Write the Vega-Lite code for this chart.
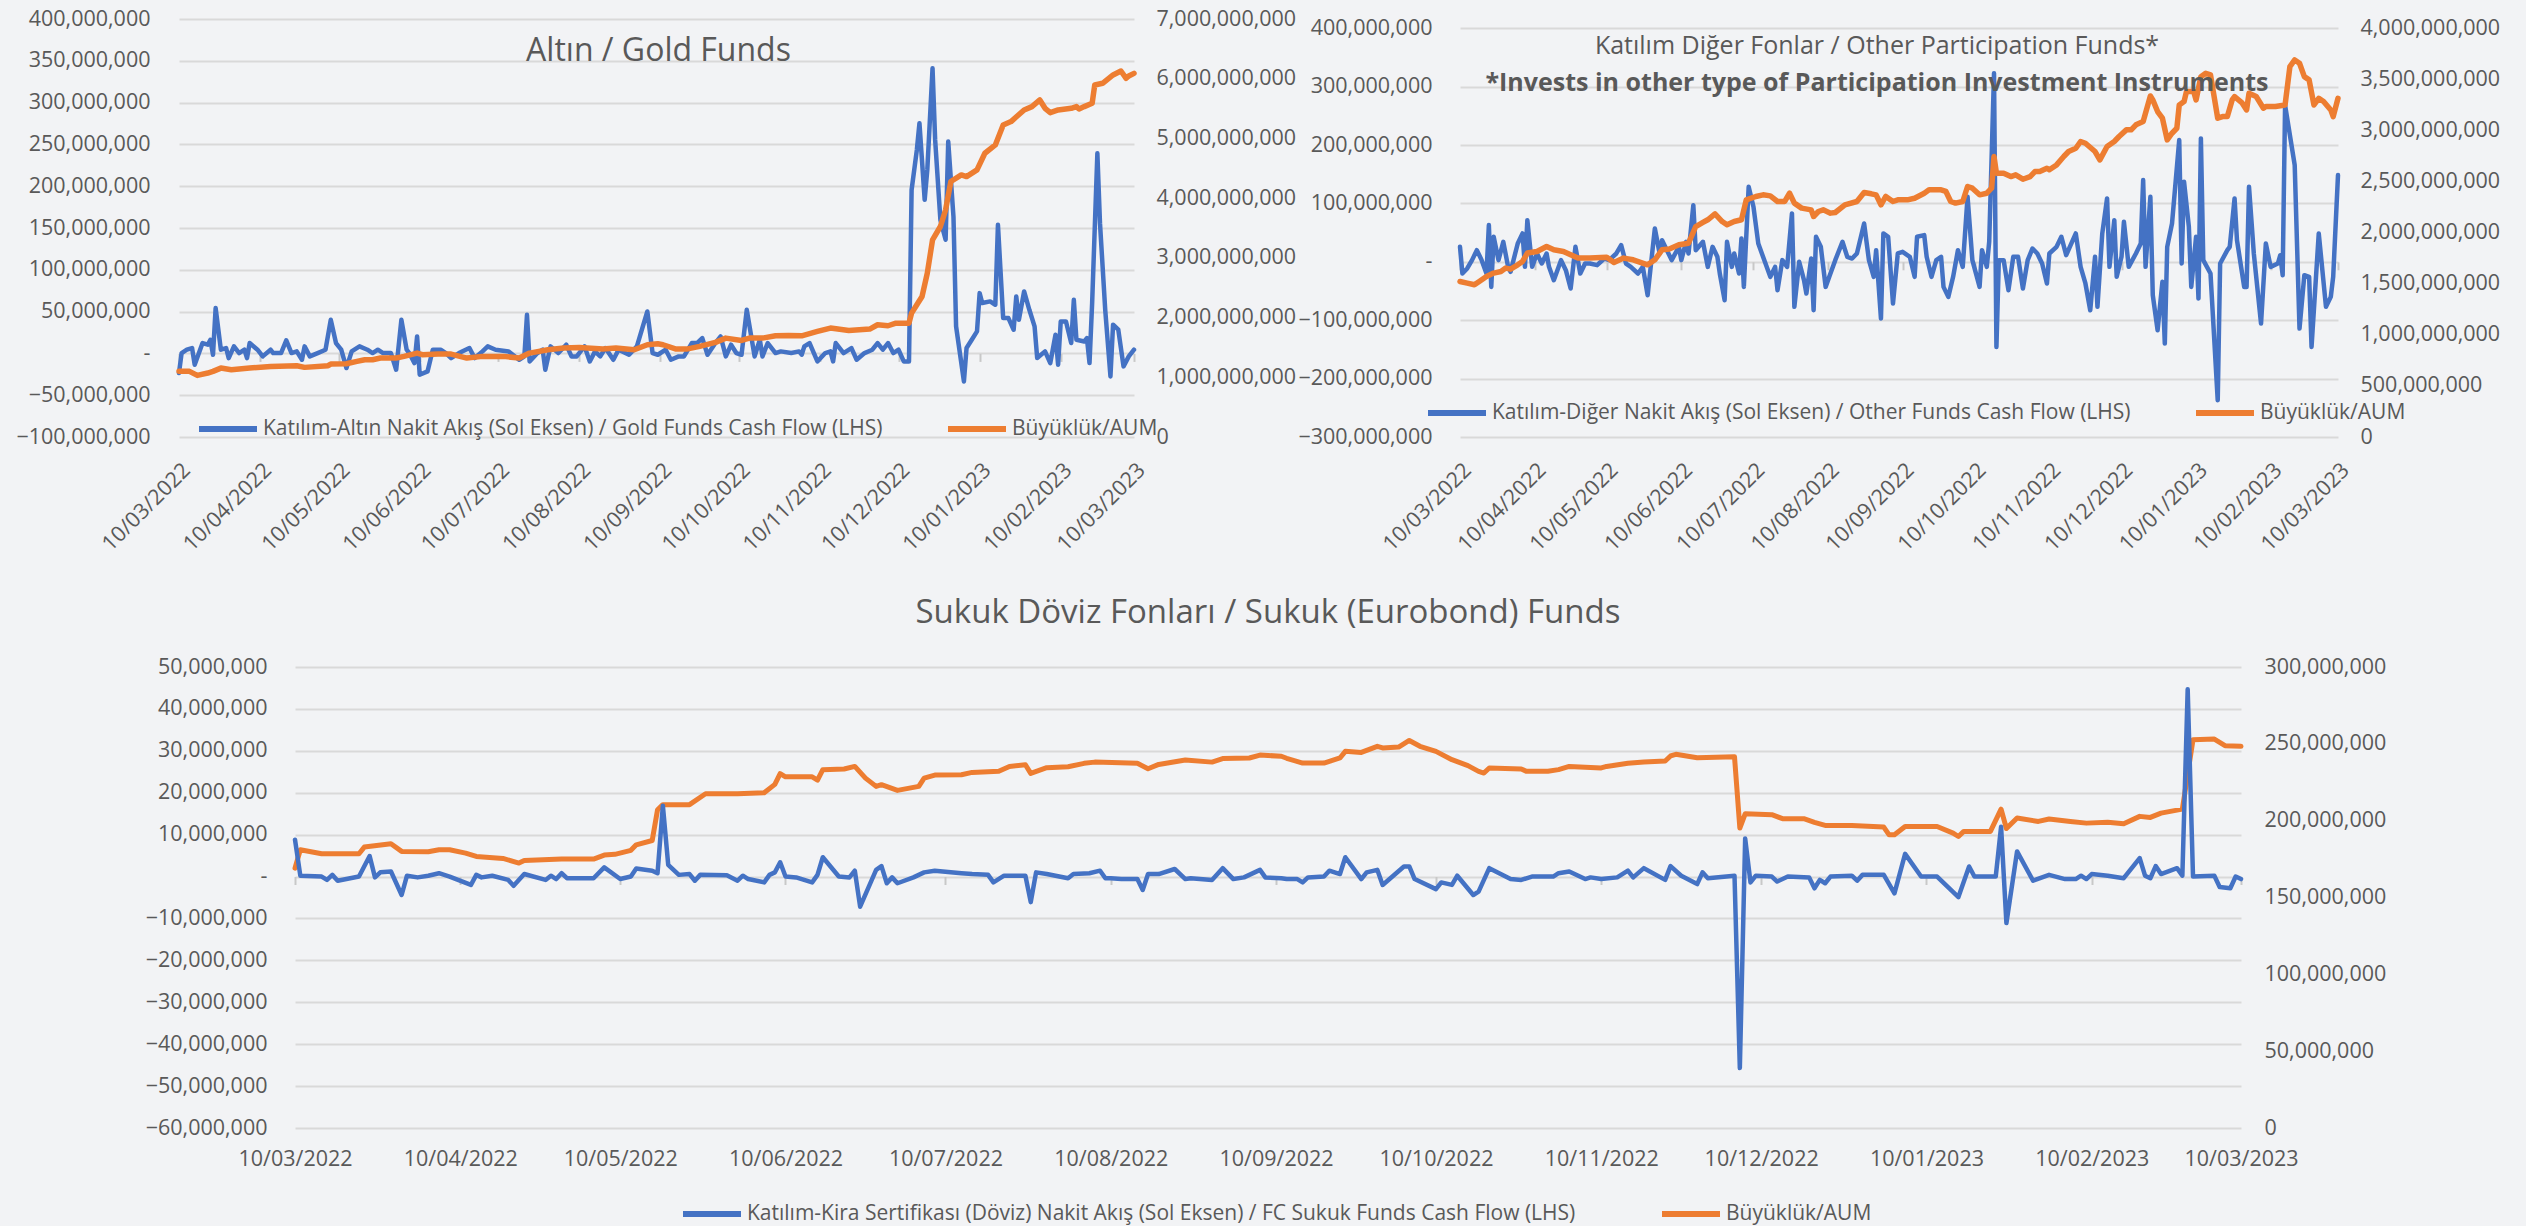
{
  "$schema": "https://vega.github.io/schema/vega-lite/v6.json",
  "background": "#f2f3f5",
  "padding": {"left": 5, "top": 8, "right": 5, "bottom": 2},
  "config": {
    "view": {"stroke": null},
    "font": "Open Sans",
    "axis": {"labelFont": "Open Sans", "labelFontSize": 21.5, "labelColor": "#595959"},
    "legend": {"labelFont": "Open Sans", "labelFontSize": 21, "labelColor": "#595959", "labelLimit": 3000, "symbolType": "stroke", "symbolSize": 3364, "symbolStrokeWidth": 6, "labelOffset": 3},
    "title": {"font": "Open Sans", "color": "#595959", "fontWeight": "normal", "anchor": "middle", "frame": "group"},
    "line": {"strokeCap": "round", "strokeJoin": "round"}
  },
  "datasets": {
    "goldCF": [
      {"d":"2022-03-10","v":-23500000},{"d":"2022-03-11","v":400000},{"d":"2022-03-13","v":4400000},{"d":"2022-03-15","v":6400000},{"d":"2022-03-16","v":-13500000},{"d":"2022-03-19","v":12400000},{"d":"2022-03-21","v":10400000},{"d":"2022-03-22","v":16300000},{"d":"2022-03-23","v":-1600000},{"d":"2022-03-24","v":54200000},{"d":"2022-03-26","v":4400000},{"d":"2022-03-28","v":6400000},{"d":"2022-03-29","v":-5600000},{"d":"2022-03-31","v":8400000},{"d":"2022-04-02","v":400000},{"d":"2022-04-04","v":4400000},{"d":"2022-04-05","v":-5600000},{"d":"2022-04-06","v":12400000},{"d":"2022-04-09","v":4400000},{"d":"2022-04-11","v":-3600000},{"d":"2022-04-14","v":4400000},{"d":"2022-04-15","v":400000},{"d":"2022-04-18","v":400000},{"d":"2022-04-20","v":15500000},{"d":"2022-04-22","v":400000},{"d":"2022-04-24","v":2400000},{"d":"2022-04-26","v":-7600000},{"d":"2022-04-27","v":8400000},{"d":"2022-04-29","v":-3600000},{"d":"2022-05-02","v":400000},{"d":"2022-05-05","v":4400000},{"d":"2022-05-07","v":40200000},{"d":"2022-05-09","v":12400000},{"d":"2022-05-11","v":4400000},{"d":"2022-05-13","v":-17500000},{"d":"2022-05-15","v":2400000},{"d":"2022-05-18","v":8400000},{"d":"2022-05-21","v":4400000},{"d":"2022-05-23","v":400000},{"d":"2022-05-25","v":4400000},{"d":"2022-05-27","v":400000},{"d":"2022-05-30","v":400000},{"d":"2022-06-01","v":-19500000},{"d":"2022-06-03","v":40200000},{"d":"2022-06-05","v":4400000},{"d":"2022-06-06","v":400000},{"d":"2022-06-08","v":-11600000},{"d":"2022-06-09","v":20300000},{"d":"2022-06-10","v":-25500000},{"d":"2022-06-13","v":-21500000},{"d":"2022-06-15","v":4400000},{"d":"2022-06-18","v":4400000},{"d":"2022-06-20","v":400000},{"d":"2022-06-22","v":-5600000},{"d":"2022-06-25","v":400000},{"d":"2022-06-29","v":6400000},{"d":"2022-07-01","v":-5600000},{"d":"2022-07-04","v":2400000},{"d":"2022-07-06","v":8400000},{"d":"2022-07-09","v":4400000},{"d":"2022-07-14","v":2400000},{"d":"2022-07-18","v":-7600000},{"d":"2022-07-20","v":-3600000},{"d":"2022-07-21","v":46200000},{"d":"2022-07-22","v":-9600000},{"d":"2022-07-25","v":400000},{"d":"2022-07-27","v":4400000},{"d":"2022-07-28","v":-19500000},{"d":"2022-07-30","v":8400000},{"d":"2022-08-02","v":400000},{"d":"2022-08-05","v":10400000},{"d":"2022-08-07","v":-3600000},{"d":"2022-08-09","v":-3600000},{"d":"2022-08-12","v":8400000},{"d":"2022-08-14","v":-9600000},{"d":"2022-08-16","v":2400000},{"d":"2022-08-18","v":-3600000},{"d":"2022-08-20","v":6400000},{"d":"2022-08-23","v":-7600000},{"d":"2022-08-25","v":4400000},{"d":"2022-08-29","v":-1600000},{"d":"2022-09-01","v":8400000},{"d":"2022-09-05","v":50200000},{"d":"2022-09-07","v":400000},{"d":"2022-09-09","v":-1600000},{"d":"2022-09-12","v":4400000},{"d":"2022-09-14","v":-7600000},{"d":"2022-09-17","v":-3600000},{"d":"2022-09-19","v":-3600000},{"d":"2022-09-22","v":12400000},{"d":"2022-09-24","v":12400000},{"d":"2022-09-26","v":18300000},{"d":"2022-09-28","v":-1600000},{"d":"2022-10-01","v":12400000},{"d":"2022-10-03","v":20300000},{"d":"2022-10-05","v":-3600000},{"d":"2022-10-07","v":10400000},{"d":"2022-10-09","v":400000},{"d":"2022-10-11","v":-1600000},{"d":"2022-10-13","v":52200000},{"d":"2022-10-16","v":-3600000},{"d":"2022-10-18","v":16300000},{"d":"2022-10-19","v":-3600000},{"d":"2022-10-21","v":12400000},{"d":"2022-10-24","v":400000},{"d":"2022-10-26","v":2400000},{"d":"2022-10-30","v":400000},{"d":"2022-11-02","v":2400000},{"d":"2022-11-03","v":-1600000},{"d":"2022-11-04","v":8400000},{"d":"2022-11-06","v":12400000},{"d":"2022-11-09","v":-9600000},{"d":"2022-11-12","v":400000},{"d":"2022-11-14","v":2400000},{"d":"2022-11-15","v":-9600000},{"d":"2022-11-16","v":12400000},{"d":"2022-11-19","v":400000},{"d":"2022-11-22","v":6400000},{"d":"2022-11-24","v":-7600000},{"d":"2022-11-27","v":400000},{"d":"2022-11-30","v":4400000},{"d":"2022-12-02","v":12400000},{"d":"2022-12-04","v":4400000},{"d":"2022-12-06","v":12400000},{"d":"2022-12-08","v":400000},{"d":"2022-12-10","v":4400000},{"d":"2022-12-12","v":-9600000},{"d":"2022-12-14","v":-9600000},{"d":"2022-12-15","v":195600000},{"d":"2022-12-17","v":243400000},{"d":"2022-12-18","v":275300000},{"d":"2022-12-20","v":183700000},{"d":"2022-12-21","v":219500000},{"d":"2022-12-23","v":341000000},{"d":"2022-12-24","v":255400000},{"d":"2022-12-26","v":159800000},{"d":"2022-12-28","v":135900000},{"d":"2022-12-29","v":253400000},{"d":"2022-12-31","v":163700000},{"d":"2023-01-01","v":32300000},{"d":"2023-01-04","v":-33500000},{"d":"2023-01-05","v":6400000},{"d":"2023-01-07","v":16300000},{"d":"2023-01-09","v":26300000},{"d":"2023-01-10","v":72100000},{"d":"2023-01-11","v":60200000},{"d":"2023-01-14","v":62200000},{"d":"2023-01-16","v":58200000},{"d":"2023-01-17","v":153800000},{"d":"2023-01-19","v":42200000},{"d":"2023-01-21","v":42200000},{"d":"2023-01-23","v":28300000},{"d":"2023-01-24","v":68100000},{"d":"2023-01-25","v":40200000},{"d":"2023-01-27","v":74100000},{"d":"2023-01-29","v":52200000},{"d":"2023-01-31","v":32300000},{"d":"2023-02-01","v":-5600000},{"d":"2023-02-04","v":2400000},{"d":"2023-02-06","v":-11600000},{"d":"2023-02-08","v":22300000},{"d":"2023-02-09","v":-13500000},{"d":"2023-02-10","v":38200000},{"d":"2023-02-12","v":38200000},{"d":"2023-02-14","v":12400000},{"d":"2023-02-15","v":64100000},{"d":"2023-02-16","v":16300000},{"d":"2023-02-19","v":14300000},{"d":"2023-02-20","v":18300000},{"d":"2023-02-21","v":-11600000},{"d":"2023-02-22","v":60200000},{"d":"2023-02-24","v":239400000},{"d":"2023-02-25","v":155800000},{"d":"2023-02-27","v":52200000},{"d":"2023-03-01","v":-27500000},{"d":"2023-03-02","v":34300000},{"d":"2023-03-04","v":28300000},{"d":"2023-03-06","v":-15500000},{"d":"2023-03-08","v":-3600000},{"d":"2023-03-10","v":4400000}
    ],
    "goldAUM": [
      {"d":"2022-03-10","v":1099000000},{"d":"2022-03-14","v":1099000000},{"d":"2022-03-17","v":1032000000},{"d":"2022-03-21","v":1071000000},{"d":"2022-03-23","v":1099000000},{"d":"2022-03-26","v":1154000000},{"d":"2022-03-30","v":1127000000},{"d":"2022-04-06","v":1154000000},{"d":"2022-04-14","v":1182000000},{"d":"2022-04-24","v":1194000000},{"d":"2022-04-27","v":1166000000},{"d":"2022-05-06","v":1194000000},{"d":"2022-05-07","v":1221000000},{"d":"2022-05-13","v":1227000000},{"d":"2022-05-17","v":1266000000},{"d":"2022-05-20","v":1294000000},{"d":"2022-05-23","v":1294000000},{"d":"2022-05-26","v":1322000000},{"d":"2022-06-01","v":1322000000},{"d":"2022-06-04","v":1350000000},{"d":"2022-06-09","v":1405000000},{"d":"2022-06-11","v":1378000000},{"d":"2022-06-17","v":1389000000},{"d":"2022-06-22","v":1389000000},{"d":"2022-06-28","v":1322000000},{"d":"2022-07-04","v":1350000000},{"d":"2022-07-12","v":1350000000},{"d":"2022-07-18","v":1322000000},{"d":"2022-07-22","v":1405000000},{"d":"2022-07-29","v":1461000000},{"d":"2022-08-04","v":1489000000},{"d":"2022-08-10","v":1500000000},{"d":"2022-08-19","v":1472000000},{"d":"2022-08-24","v":1489000000},{"d":"2022-08-31","v":1461000000},{"d":"2022-09-05","v":1545000000},{"d":"2022-09-09","v":1562000000},{"d":"2022-09-11","v":1545000000},{"d":"2022-09-16","v":1472000000},{"d":"2022-09-20","v":1472000000},{"d":"2022-09-25","v":1517000000},{"d":"2022-10-01","v":1584000000},{"d":"2022-10-05","v":1656000000},{"d":"2022-10-11","v":1617000000},{"d":"2022-10-14","v":1656000000},{"d":"2022-10-19","v":1656000000},{"d":"2022-10-24","v":1695000000},{"d":"2022-10-29","v":1701000000},{"d":"2022-11-03","v":1695000000},{"d":"2022-11-09","v":1768000000},{"d":"2022-11-14","v":1824000000},{"d":"2022-11-21","v":1785000000},{"d":"2022-11-29","v":1807000000},{"d":"2022-12-02","v":1880000000},{"d":"2022-12-06","v":1863000000},{"d":"2022-12-09","v":1907000000},{"d":"2022-12-14","v":1907000000},{"d":"2022-12-15","v":2075000000},{"d":"2022-12-17","v":2214000000},{"d":"2022-12-19","v":2354000000},{"d":"2022-12-21","v":2744000000},{"d":"2022-12-23","v":3302000000},{"d":"2022-12-26","v":3525000000},{"d":"2022-12-28","v":3804000000},{"d":"2022-12-30","v":4278000000},{"d":"2023-01-03","v":4389000000},{"d":"2023-01-05","v":4361000000},{"d":"2023-01-09","v":4473000000},{"d":"2023-01-12","v":4752000000},{"d":"2023-01-16","v":4891000000},{"d":"2023-01-19","v":5226000000},{"d":"2023-01-22","v":5282000000},{"d":"2023-01-27","v":5477000000},{"d":"2023-01-30","v":5533000000},{"d":"2023-02-02","v":5644000000},{"d":"2023-02-04","v":5505000000},{"d":"2023-02-06","v":5432000000},{"d":"2023-02-09","v":5477000000},{"d":"2023-02-14","v":5505000000},{"d":"2023-02-16","v":5533000000},{"d":"2023-02-17","v":5494000000},{"d":"2023-02-19","v":5533000000},{"d":"2023-02-22","v":5588000000},{"d":"2023-02-23","v":5895000000},{"d":"2023-02-26","v":5923000000},{"d":"2023-03-02","v":6063000000},{"d":"2023-03-05","v":6129000000},{"d":"2023-03-07","v":6007000000},{"d":"2023-03-08","v":6046000000},{"d":"2023-03-10","v":6090000000}
    ],
    "otherCF": [
      {"d":"2022-03-10","v":25700000},{"d":"2022-03-11","v":-20000000},{"d":"2022-03-13","v":-11400000},{"d":"2022-03-15","v":2900000},{"d":"2022-03-17","v":20000000},{"d":"2022-03-19","v":2900000},{"d":"2022-03-21","v":-20000000},{"d":"2022-03-22","v":62900000},{"d":"2022-03-23","v":-42900000},{"d":"2022-03-24","v":42900000},{"d":"2022-03-26","v":2900000},{"d":"2022-03-28","v":34300000},{"d":"2022-03-30","v":-8600000},{"d":"2022-03-31","v":-17100000},{"d":"2022-04-03","v":31400000},{"d":"2022-04-05","v":48600000},{"d":"2022-04-06","v":-8600000},{"d":"2022-04-07","v":71400000},{"d":"2022-04-09","v":-8600000},{"d":"2022-04-11","v":14300000},{"d":"2022-04-13","v":-2900000},{"d":"2022-04-15","v":14300000},{"d":"2022-04-16","v":-8600000},{"d":"2022-04-18","v":-31400000},{"d":"2022-04-21","v":2900000},{"d":"2022-04-23","v":-14300000},{"d":"2022-04-25","v":-45700000},{"d":"2022-04-27","v":25700000},{"d":"2022-04-29","v":-20000000},{"d":"2022-05-01","v":-2900000},{"d":"2022-05-03","v":-2900000},{"d":"2022-05-06","v":-5700000},{"d":"2022-05-09","v":5700000},{"d":"2022-05-11","v":2900000},{"d":"2022-05-14","v":14300000},{"d":"2022-05-16","v":28600000},{"d":"2022-05-18","v":-2900000},{"d":"2022-05-20","v":-8600000},{"d":"2022-05-23","v":-20000000},{"d":"2022-05-25","v":-8600000},{"d":"2022-05-27","v":-57100000},{"d":"2022-05-30","v":57100000},{"d":"2022-06-01","v":14300000},{"d":"2022-06-02","v":37100000},{"d":"2022-06-04","v":20000000},{"d":"2022-06-06","v":2900000},{"d":"2022-06-09","v":25700000},{"d":"2022-06-10","v":2900000},{"d":"2022-06-12","v":34300000},{"d":"2022-06-13","v":14300000},{"d":"2022-06-15","v":97100000},{"d":"2022-06-16","v":20000000},{"d":"2022-06-19","v":34300000},{"d":"2022-06-21","v":-8600000},{"d":"2022-06-23","v":25700000},{"d":"2022-06-25","v":8600000},{"d":"2022-06-26","v":-20000000},{"d":"2022-06-28","v":-65700000},{"d":"2022-06-29","v":34300000},{"d":"2022-07-01","v":-8600000},{"d":"2022-07-02","v":14300000},{"d":"2022-07-04","v":-20000000},{"d":"2022-07-05","v":40000000},{"d":"2022-07-06","v":-42900000},{"d":"2022-07-08","v":128600000},{"d":"2022-07-10","v":94300000},{"d":"2022-07-12","v":31400000},{"d":"2022-07-15","v":-2900000},{"d":"2022-07-17","v":-25700000},{"d":"2022-07-19","v":-8600000},{"d":"2022-07-20","v":-48600000},{"d":"2022-07-22","v":2900000},{"d":"2022-07-24","v":-8600000},{"d":"2022-07-26","v":82900000},{"d":"2022-07-27","v":-77100000},{"d":"2022-07-29","v":0},{"d":"2022-07-31","v":-31400000},{"d":"2022-08-01","v":-54300000},{"d":"2022-08-03","v":5700000},{"d":"2022-08-04","v":-82900000},{"d":"2022-08-05","v":42900000},{"d":"2022-08-07","v":25700000},{"d":"2022-08-09","v":-42900000},{"d":"2022-08-11","v":-20000000},{"d":"2022-08-13","v":2900000},{"d":"2022-08-16","v":34300000},{"d":"2022-08-18","v":8600000},{"d":"2022-08-20","v":5700000},{"d":"2022-08-22","v":14300000},{"d":"2022-08-25","v":65700000},{"d":"2022-08-27","v":2900000},{"d":"2022-08-29","v":-25700000},{"d":"2022-08-30","v":20000000},{"d":"2022-09-01","v":-97100000},{"d":"2022-09-02","v":48600000},{"d":"2022-09-04","v":42900000},{"d":"2022-09-06","v":-71400000},{"d":"2022-09-08","v":14300000},{"d":"2022-09-10","v":17100000},{"d":"2022-09-13","v":8600000},{"d":"2022-09-15","v":-25700000},{"d":"2022-09-16","v":42900000},{"d":"2022-09-19","v":45700000},{"d":"2022-09-20","v":8600000},{"d":"2022-09-22","v":-25700000},{"d":"2022-09-24","v":2900000},{"d":"2022-09-26","v":8600000},{"d":"2022-09-27","v":-42900000},{"d":"2022-09-29","v":-60000000},{"d":"2022-10-01","v":-25700000},{"d":"2022-10-03","v":20000000},{"d":"2022-10-05","v":-8600000},{"d":"2022-10-07","v":111400000},{"d":"2022-10-09","v":2900000},{"d":"2022-10-12","v":-42900000},{"d":"2022-10-13","v":20000000},{"d":"2022-10-15","v":-8600000},{"d":"2022-10-16","v":34300000},{"d":"2022-10-18","v":322900000},{"d":"2022-10-19","v":-145700000},{"d":"2022-10-20","v":2900000},{"d":"2022-10-22","v":2900000},{"d":"2022-10-24","v":-48600000},{"d":"2022-10-26","v":8600000},{"d":"2022-10-28","v":8600000},{"d":"2022-10-30","v":-45700000},{"d":"2022-11-01","v":2900000},{"d":"2022-11-03","v":22900000},{"d":"2022-11-05","v":14300000},{"d":"2022-11-07","v":-2900000},{"d":"2022-11-09","v":-37100000},{"d":"2022-11-10","v":14300000},{"d":"2022-11-13","v":25700000},{"d":"2022-11-15","v":42900000},{"d":"2022-11-17","v":11400000},{"d":"2022-11-21","v":48600000},{"d":"2022-11-23","v":-8600000},{"d":"2022-11-25","v":-37100000},{"d":"2022-11-27","v":-82900000},{"d":"2022-11-29","v":8600000},{"d":"2022-11-30","v":-77100000},{"d":"2022-12-02","v":48600000},{"d":"2022-12-04","v":108600000},{"d":"2022-12-05","v":-8600000},{"d":"2022-12-07","v":71400000},{"d":"2022-12-08","v":-25700000},{"d":"2022-12-10","v":8600000},{"d":"2022-12-11","v":68600000},{"d":"2022-12-13","v":-8600000},{"d":"2022-12-16","v":14300000},{"d":"2022-12-18","v":31400000},{"d":"2022-12-19","v":140000000},{"d":"2022-12-20","v":-8600000},{"d":"2022-12-22","v":111400000},{"d":"2022-12-23","v":-57100000},{"d":"2022-12-25","v":-117100000},{"d":"2022-12-27","v":-34300000},{"d":"2022-12-28","v":-140000000},{"d":"2022-12-29","v":25700000},{"d":"2022-12-31","v":65700000},{"d":"2023-01-03","v":208600000},{"d":"2023-01-04","v":-2900000},{"d":"2023-01-05","v":137100000},{"d":"2023-01-07","v":60000000},{"d":"2023-01-08","v":-42900000},{"d":"2023-01-10","v":42900000},{"d":"2023-01-11","v":-62900000},{"d":"2023-01-12","v":211400000},{"d":"2023-01-13","v":2900000},{"d":"2023-01-16","v":-20000000},{"d":"2023-01-19","v":-237100000},{"d":"2023-01-20","v":-2900000},{"d":"2023-01-23","v":20000000},{"d":"2023-01-24","v":25700000},{"d":"2023-01-26","v":108600000},{"d":"2023-01-27","v":37100000},{"d":"2023-01-30","v":-42900000},{"d":"2023-01-31","v":-42900000},{"d":"2023-02-01","v":128600000},{"d":"2023-02-03","v":14300000},{"d":"2023-02-06","v":-105700000},{"d":"2023-02-08","v":31400000},{"d":"2023-02-10","v":-8600000},{"d":"2023-02-13","v":-2900000},{"d":"2023-02-14","v":11400000},{"d":"2023-02-15","v":-22900000},{"d":"2023-02-16","v":268600000},{"d":"2023-02-20","v":165700000},{"d":"2023-02-22","v":-114300000},{"d":"2023-02-24","v":-22900000},{"d":"2023-02-26","v":-25700000},{"d":"2023-02-27","v":-145700000},{"d":"2023-03-02","v":48600000},{"d":"2023-03-05","v":-77100000},{"d":"2023-03-07","v":-60000000},{"d":"2023-03-08","v":-25700000},{"d":"2023-03-10","v":148600000}
    ],
    "otherAUM": [
      {"d":"2022-03-10","v":1522000000},{"d":"2022-03-13","v":1506000000},{"d":"2022-03-16","v":1490000000},{"d":"2022-03-18","v":1522000000},{"d":"2022-03-21","v":1571000000},{"d":"2022-03-24","v":1604000000},{"d":"2022-03-27","v":1620000000},{"d":"2022-03-29","v":1653000000},{"d":"2022-03-31","v":1643000000},{"d":"2022-04-03","v":1685000000},{"d":"2022-04-05","v":1718000000},{"d":"2022-04-07","v":1800000000},{"d":"2022-04-11","v":1816000000},{"d":"2022-04-15","v":1865000000},{"d":"2022-04-18","v":1832000000},{"d":"2022-04-22","v":1816000000},{"d":"2022-04-25","v":1783000000},{"d":"2022-04-28","v":1751000000},{"d":"2022-05-03","v":1751000000},{"d":"2022-05-10","v":1760000000},{"d":"2022-05-13","v":1708000000},{"d":"2022-05-17","v":1751000000},{"d":"2022-05-21","v":1734000000},{"d":"2022-05-27","v":1685000000},{"d":"2022-05-30","v":1734000000},{"d":"2022-06-02","v":1832000000},{"d":"2022-06-05","v":1839000000},{"d":"2022-06-09","v":1881000000},{"d":"2022-06-13","v":1897000000},{"d":"2022-06-16","v":2060000000},{"d":"2022-06-19","v":2100000000},{"d":"2022-06-21","v":2126000000},{"d":"2022-06-24","v":2184000000},{"d":"2022-06-27","v":2109000000},{"d":"2022-06-29","v":2077000000},{"d":"2022-07-02","v":2109000000},{"d":"2022-07-05","v":2126000000},{"d":"2022-07-07","v":2321000000},{"d":"2022-07-11","v":2354000000},{"d":"2022-07-14","v":2370000000},{"d":"2022-07-17","v":2360000000},{"d":"2022-07-20","v":2305000000},{"d":"2022-07-23","v":2305000000},{"d":"2022-07-25","v":2386000000},{"d":"2022-07-27","v":2289000000},{"d":"2022-07-30","v":2240000000},{"d":"2022-08-03","v":2223000000},{"d":"2022-08-04","v":2158000000},{"d":"2022-08-06","v":2207000000},{"d":"2022-08-08","v":2223000000},{"d":"2022-08-11","v":2191000000},{"d":"2022-08-13","v":2197000000},{"d":"2022-08-17","v":2272000000},{"d":"2022-08-22","v":2305000000},{"d":"2022-08-25","v":2393000000},{"d":"2022-08-28","v":2380000000},{"d":"2022-08-30","v":2370000000},{"d":"2022-09-01","v":2272000000},{"d":"2022-09-03","v":2354000000},{"d":"2022-09-06","v":2305000000},{"d":"2022-09-08","v":2321000000},{"d":"2022-09-12","v":2321000000},{"d":"2022-09-15","v":2337000000},{"d":"2022-09-19","v":2386000000},{"d":"2022-09-21","v":2419000000},{"d":"2022-09-26","v":2419000000},{"d":"2022-09-28","v":2403000000},{"d":"2022-09-30","v":2305000000},{"d":"2022-10-02","v":2289000000},{"d":"2022-10-05","v":2305000000},{"d":"2022-10-07","v":2452000000},{"d":"2022-10-09","v":2435000000},{"d":"2022-10-12","v":2370000000},{"d":"2022-10-15","v":2386000000},{"d":"2022-10-17","v":2435000000},{"d":"2022-10-18","v":2745000000},{"d":"2022-10-19","v":2582000000},{"d":"2022-10-22","v":2582000000},{"d":"2022-10-25","v":2549000000},{"d":"2022-10-27","v":2566000000},{"d":"2022-10-30","v":2523000000},{"d":"2022-11-02","v":2549000000},{"d":"2022-11-04","v":2598000000},{"d":"2022-11-06","v":2598000000},{"d":"2022-11-09","v":2631000000},{"d":"2022-11-10","v":2615000000},{"d":"2022-11-13","v":2663000000},{"d":"2022-11-16","v":2745000000},{"d":"2022-11-18","v":2794000000},{"d":"2022-11-21","v":2826000000},{"d":"2022-11-23","v":2892000000},{"d":"2022-11-25","v":2875000000},{"d":"2022-11-29","v":2794000000},{"d":"2022-12-01","v":2712000000},{"d":"2022-12-04","v":2843000000},{"d":"2022-12-07","v":2892000000},{"d":"2022-12-09","v":2941000000},{"d":"2022-12-12","v":3006000000},{"d":"2022-12-14","v":3006000000},{"d":"2022-12-16","v":3055000000},{"d":"2022-12-19","v":3087000000},{"d":"2022-12-22","v":3338000000},{"d":"2022-12-23","v":3299000000},{"d":"2022-12-25","v":3185000000},{"d":"2022-12-27","v":3120000000},{"d":"2022-12-29","v":2908000000},{"d":"2022-12-31","v":2973000000},{"d":"2023-01-02","v":3022000000},{"d":"2023-01-03","v":3250000000},{"d":"2023-01-05","v":3283000000},{"d":"2023-01-06","v":3381000000},{"d":"2023-01-09","v":3381000000},{"d":"2023-01-10","v":3299000000},{"d":"2023-01-12","v":3527000000},{"d":"2023-01-14","v":3560000000},{"d":"2023-01-16","v":3544000000},{"d":"2023-01-19","v":3120000000},{"d":"2023-01-21","v":3136000000},{"d":"2023-01-23","v":3136000000},{"d":"2023-01-25","v":3299000000},{"d":"2023-01-26","v":3332000000},{"d":"2023-01-29","v":3273000000},{"d":"2023-01-31","v":3201000000},{"d":"2023-02-01","v":3364000000},{"d":"2023-02-04","v":3332000000},{"d":"2023-02-07","v":3218000000},{"d":"2023-02-08","v":3234000000},{"d":"2023-02-12","v":3234000000},{"d":"2023-02-16","v":3250000000},{"d":"2023-02-18","v":3625000000},{"d":"2023-02-20","v":3690000000},{"d":"2023-02-22","v":3658000000},{"d":"2023-02-24","v":3527000000},{"d":"2023-02-26","v":3495000000},{"d":"2023-02-28","v":3250000000},{"d":"2023-03-02","v":3315000000},{"d":"2023-03-04","v":3283000000},{"d":"2023-03-07","v":3201000000},{"d":"2023-03-08","v":3136000000},{"d":"2023-03-10","v":3315000000}
    ],
    "sukukCF": [
      {"d":"2022-03-10","v":8800000},{"d":"2022-03-11","v":200000},{"d":"2022-03-15","v":0},{"d":"2022-03-16","v":-800000},{"d":"2022-03-17","v":400000},{"d":"2022-03-18","v":-1000000},{"d":"2022-03-22","v":0},{"d":"2022-03-24","v":4900000},{"d":"2022-03-25","v":-200000},{"d":"2022-03-26","v":1000000},{"d":"2022-03-28","v":1200000},{"d":"2022-03-30","v":-4400000},{"d":"2022-03-31","v":200000},{"d":"2022-04-02","v":-200000},{"d":"2022-04-04","v":200000},{"d":"2022-04-06","v":800000},{"d":"2022-04-08","v":0},{"d":"2022-04-12","v":-2000000},{"d":"2022-04-13","v":400000},{"d":"2022-04-14","v":-200000},{"d":"2022-04-16","v":200000},{"d":"2022-04-19","v":-800000},{"d":"2022-04-20","v":-2200000},{"d":"2022-04-22","v":600000},{"d":"2022-04-26","v":-800000},{"d":"2022-04-27","v":200000},{"d":"2022-04-28","v":-600000},{"d":"2022-04-29","v":800000},{"d":"2022-04-30","v":-400000},{"d":"2022-05-05","v":-400000},{"d":"2022-05-07","v":2200000},{"d":"2022-05-10","v":-600000},{"d":"2022-05-12","v":0},{"d":"2022-05-13","v":1900000},{"d":"2022-05-16","v":1400000},{"d":"2022-05-17","v":800000},{"d":"2022-05-18","v":16900000},{"d":"2022-05-19","v":2800000},{"d":"2022-05-21","v":400000},{"d":"2022-05-23","v":600000},{"d":"2022-05-24","v":-1000000},{"d":"2022-05-25","v":400000},{"d":"2022-05-30","v":300000},{"d":"2022-06-01","v":-1000000},{"d":"2022-06-02","v":200000},{"d":"2022-06-03","v":-600000},{"d":"2022-06-06","v":-1400000},{"d":"2022-06-07","v":400000},{"d":"2022-06-08","v":1000000},{"d":"2022-06-09","v":3400000},{"d":"2022-06-10","v":0},{"d":"2022-06-12","v":-200000},{"d":"2022-06-15","v":-1400000},{"d":"2022-06-16","v":400000},{"d":"2022-06-17","v":4600000},{"d":"2022-06-20","v":0},{"d":"2022-06-22","v":-200000},{"d":"2022-06-23","v":1400000},{"d":"2022-06-24","v":-7200000},{"d":"2022-06-27","v":1600000},{"d":"2022-06-28","v":2500000},{"d":"2022-06-29","v":-1600000},{"d":"2022-06-30","v":-200000},{"d":"2022-07-01","v":-1600000},{"d":"2022-07-04","v":-200000},{"d":"2022-07-06","v":1000000},{"d":"2022-07-08","v":1400000},{"d":"2022-07-13","v":800000},{"d":"2022-07-15","v":600000},{"d":"2022-07-18","v":400000},{"d":"2022-07-19","v":-1400000},{"d":"2022-07-21","v":200000},{"d":"2022-07-25","v":200000},{"d":"2022-07-26","v":-6100000},{"d":"2022-07-27","v":1000000},{"d":"2022-07-29","v":600000},{"d":"2022-08-02","v":-400000},{"d":"2022-08-03","v":600000},{"d":"2022-08-06","v":800000},{"d":"2022-08-08","v":1400000},{"d":"2022-08-09","v":-400000},{"d":"2022-08-10","v":-400000},{"d":"2022-08-12","v":-600000},{"d":"2022-08-15","v":-600000},{"d":"2022-08-16","v":-3200000},{"d":"2022-08-17","v":600000},{"d":"2022-08-19","v":600000},{"d":"2022-08-22","v":1800000},{"d":"2022-08-24","v":-600000},{"d":"2022-08-25","v":-400000},{"d":"2022-08-29","v":-800000},{"d":"2022-08-31","v":2000000},{"d":"2022-09-02","v":-600000},{"d":"2022-09-04","v":-200000},{"d":"2022-09-07","v":1600000},{"d":"2022-09-08","v":-200000},{"d":"2022-09-11","v":-400000},{"d":"2022-09-12","v":-600000},{"d":"2022-09-14","v":-600000},{"d":"2022-09-15","v":-1400000},{"d":"2022-09-16","v":-200000},{"d":"2022-09-19","v":0},{"d":"2022-09-20","v":1400000},{"d":"2022-09-22","v":600000},{"d":"2022-09-23","v":4600000},{"d":"2022-09-26","v":-600000},{"d":"2022-09-27","v":1000000},{"d":"2022-09-29","v":1600000},{"d":"2022-09-30","v":-2000000},{"d":"2022-10-04","v":2400000},{"d":"2022-10-05","v":2400000},{"d":"2022-10-06","v":-600000},{"d":"2022-10-10","v":-3000000},{"d":"2022-10-11","v":-1400000},{"d":"2022-10-13","v":-2000000},{"d":"2022-10-14","v":200000},{"d":"2022-10-17","v":-4400000},{"d":"2022-10-18","v":-3600000},{"d":"2022-10-20","v":2000000},{"d":"2022-10-24","v":-600000},{"d":"2022-10-26","v":-800000},{"d":"2022-10-28","v":0},{"d":"2022-11-01","v":0},{"d":"2022-11-02","v":800000},{"d":"2022-11-04","v":1200000},{"d":"2022-11-07","v":-600000},{"d":"2022-11-08","v":-200000},{"d":"2022-11-10","v":-600000},{"d":"2022-11-13","v":-200000},{"d":"2022-11-15","v":1400000},{"d":"2022-11-16","v":-200000},{"d":"2022-11-18","v":2000000},{"d":"2022-11-22","v":-800000},{"d":"2022-11-23","v":2500000},{"d":"2022-11-25","v":200000},{"d":"2022-11-28","v":-1800000},{"d":"2022-11-29","v":1000000},{"d":"2022-11-30","v":-400000},{"d":"2022-12-05","v":200000},{"d":"2022-12-06","v":-45700000},{"d":"2022-12-07","v":9100000},{"d":"2022-12-08","v":-1400000},{"d":"2022-12-09","v":200000},{"d":"2022-12-12","v":0},{"d":"2022-12-13","v":-1200000},{"d":"2022-12-15","v":0},{"d":"2022-12-19","v":-200000},{"d":"2022-12-20","v":-2800000},{"d":"2022-12-21","v":-800000},{"d":"2022-12-22","v":-1600000},{"d":"2022-12-23","v":0},{"d":"2022-12-27","v":200000},{"d":"2022-12-28","v":-1000000},{"d":"2022-12-29","v":400000},{"d":"2023-01-02","v":400000},{"d":"2023-01-04","v":-4000000},{"d":"2023-01-06","v":5400000},{"d":"2023-01-09","v":0},{"d":"2023-01-12","v":0},{"d":"2023-01-16","v":-4900000},{"d":"2023-01-18","v":2400000},{"d":"2023-01-19","v":0},{"d":"2023-01-23","v":0},{"d":"2023-01-24","v":11900000},{"d":"2023-01-25","v":-11100000},{"d":"2023-01-27","v":6000000},{"d":"2023-01-30","v":-1000000},{"d":"2023-02-02","v":400000},{"d":"2023-02-05","v":-600000},{"d":"2023-02-07","v":-600000},{"d":"2023-02-08","v":200000},{"d":"2023-02-09","v":-600000},{"d":"2023-02-10","v":600000},{"d":"2023-02-13","v":200000},{"d":"2023-02-16","v":-400000},{"d":"2023-02-19","v":4400000},{"d":"2023-02-20","v":200000},{"d":"2023-02-21","v":-400000},{"d":"2023-02-22","v":2500000},{"d":"2023-02-23","v":600000},{"d":"2023-02-26","v":2000000},{"d":"2023-02-27","v":200000},{"d":"2023-02-28","v":44700000},{"d":"2023-03-01","v":0},{"d":"2023-03-05","v":200000},{"d":"2023-03-06","v":-2500000},{"d":"2023-03-08","v":-2800000},{"d":"2023-03-09","v":0},{"d":"2023-03-10","v":-600000}
    ],
    "sukukAUM": [
      {"d":"2022-03-10","v":169100000},{"d":"2022-03-11","v":181100000},{"d":"2022-03-15","v":178500000},{"d":"2022-03-22","v":178500000},{"d":"2022-03-23","v":182800000},{"d":"2022-03-28","v":185000000},{"d":"2022-03-30","v":180000000},{"d":"2022-04-04","v":179800000},{"d":"2022-04-06","v":181100000},{"d":"2022-04-08","v":181100000},{"d":"2022-04-11","v":178900000},{"d":"2022-04-13","v":176700000},{"d":"2022-04-18","v":175400000},{"d":"2022-04-21","v":172400000},{"d":"2022-04-22","v":174100000},{"d":"2022-04-29","v":175000000},{"d":"2022-05-05","v":175000000},{"d":"2022-05-07","v":177600000},{"d":"2022-05-09","v":178100000},{"d":"2022-05-12","v":180700000},{"d":"2022-05-13","v":184300000},{"d":"2022-05-16","v":187100000},{"d":"2022-05-17","v":207100000},{"d":"2022-05-18","v":210400000},{"d":"2022-05-23","v":210400000},{"d":"2022-05-26","v":217500000},{"d":"2022-06-01","v":217500000},{"d":"2022-06-06","v":218200000},{"d":"2022-06-08","v":223600000},{"d":"2022-06-09","v":230600000},{"d":"2022-06-10","v":228500000},{"d":"2022-06-15","v":228500000},{"d":"2022-06-16","v":226400000},{"d":"2022-06-17","v":233200000},{"d":"2022-06-21","v":233600000},{"d":"2022-06-23","v":235300000},{"d":"2022-06-25","v":227700000},{"d":"2022-06-27","v":222300000},{"d":"2022-06-28","v":223400000},{"d":"2022-07-01","v":219700000},{"d":"2022-07-05","v":222300000},{"d":"2022-07-06","v":227700000},{"d":"2022-07-08","v":229700000},{"d":"2022-07-13","v":229900000},{"d":"2022-07-15","v":231400000},{"d":"2022-07-20","v":232100000},{"d":"2022-07-22","v":235300000},{"d":"2022-07-25","v":236400000},{"d":"2022-07-26","v":230800000},{"d":"2022-07-29","v":234500000},{"d":"2022-08-02","v":235100000},{"d":"2022-08-05","v":237300000},{"d":"2022-08-07","v":238100000},{"d":"2022-08-15","v":237300000},{"d":"2022-08-17","v":233800000},{"d":"2022-08-19","v":236600000},{"d":"2022-08-24","v":239500000},{"d":"2022-08-29","v":238100000},{"d":"2022-08-31","v":240400000},{"d":"2022-09-05","v":240800000},{"d":"2022-09-07","v":242700000},{"d":"2022-09-11","v":241900000},{"d":"2022-09-12","v":240600000},{"d":"2022-09-15","v":237500000},{"d":"2022-09-19","v":237500000},{"d":"2022-09-22","v":240800000},{"d":"2022-09-23","v":245100000},{"d":"2022-09-26","v":244400000},{"d":"2022-09-29","v":248400000},{"d":"2022-09-30","v":247300000},{"d":"2022-10-03","v":247900000},{"d":"2022-10-05","v":252200000},{"d":"2022-10-07","v":248400000},{"d":"2022-10-10","v":245100000},{"d":"2022-10-13","v":239700000},{"d":"2022-10-16","v":235800000},{"d":"2022-10-18","v":232100000},{"d":"2022-10-19","v":231000000},{"d":"2022-10-20","v":234300000},{"d":"2022-10-26","v":233600000},{"d":"2022-10-27","v":232100000},{"d":"2022-10-31","v":232100000},{"d":"2022-11-02","v":233200000},{"d":"2022-11-04","v":235300000},{"d":"2022-11-10","v":234300000},{"d":"2022-11-11","v":235300000},{"d":"2022-11-15","v":237300000},{"d":"2022-11-18","v":238200000},{"d":"2022-11-22","v":238800000},{"d":"2022-11-23","v":242100000},{"d":"2022-11-24","v":243200000},{"d":"2022-11-28","v":241000000},{"d":"2022-12-05","v":241600000},{"d":"2022-12-06","v":195200000},{"d":"2022-12-07","v":204500000},{"d":"2022-12-12","v":203900000},{"d":"2022-12-14","v":201300000},{"d":"2022-12-18","v":201300000},{"d":"2022-12-20","v":198900000},{"d":"2022-12-22","v":196900000},{"d":"2022-12-27","v":196900000},{"d":"2023-01-02","v":195800000},{"d":"2023-01-03","v":190800000},{"d":"2023-01-04","v":190800000},{"d":"2023-01-06","v":196200000},{"d":"2023-01-12","v":196200000},{"d":"2023-01-15","v":191900000},{"d":"2023-01-16","v":189700000},{"d":"2023-01-17","v":193000000},{"d":"2023-01-22","v":193000000},{"d":"2023-01-24","v":207500000},{"d":"2023-01-25","v":194900000},{"d":"2023-01-27","v":201700000},{"d":"2023-01-31","v":199500000},{"d":"2023-02-02","v":201100000},{"d":"2023-02-06","v":199500000},{"d":"2023-02-09","v":198400000},{"d":"2023-02-13","v":198900000},{"d":"2023-02-16","v":198000000},{"d":"2023-02-19","v":202800000},{"d":"2023-02-21","v":202100000},{"d":"2023-02-23","v":204900000},{"d":"2023-02-27","v":207500000},{"d":"2023-03-01","v":252700000},{"d":"2023-03-05","v":253100000},{"d":"2023-03-07","v":248800000},{"d":"2023-03-10","v":248400000}
    ]
  },
  "concat": [
    {
      "hconcat": [
        {
          "width": 955,
          "height": 418,
          "title": {"text": "Altın / Gold Funds", "fontSize": 32, "offset": -60, "dx": 2},
          "layer": [
            {
              "data": {"name": "goldCF"},
              "mark": {"type": "line", "strokeWidth": 4.5},
              "encoding": {
                "x": {"field": "d", "type": "temporal",
                  "scale": {"type": "utc", "domain": [{"year":2022,"month":3,"date":10,"utc":true},{"year":2023,"month":3,"date":10,"utc":true}]},
                  "axis": {"title": null, "orient": "bottom", "values": [{"year":2022,"month":3,"date":10,"utc":true},{"year":2022,"month":4,"date":10,"utc":true},{"year":2022,"month":5,"date":10,"utc":true},{"year":2022,"month":6,"date":10,"utc":true},{"year":2022,"month":7,"date":10,"utc":true},{"year":2022,"month":8,"date":10,"utc":true},{"year":2022,"month":9,"date":10,"utc":true},{"year":2022,"month":10,"date":10,"utc":true},{"year":2022,"month":11,"date":10,"utc":true},{"year":2022,"month":12,"date":10,"utc":true},{"year":2023,"month":1,"date":10,"utc":true},{"year":2023,"month":2,"date":10,"utc":true},{"year":2023,"month":3,"date":10,"utc":true}],
                    "labelExpr": "utcFormat(datum.value, '%d/%m/%Y')", "labelAngle": -45, "labelPadding": 22, "ticks": false, "domain": false, "grid": false, "labelOverlap": false, "labelFlush": false, "labelBound": false, "minExtent": 140}},
                "y": {"field": "v", "type": "quantitative",
                  "scale": {"domain": [-100000000, 400000000], "nice": false, "zero": false},
                  "axis": {"title": null, "orient": "left", "values": [-100000000,-50000000,0,50000000,100000000,150000000,200000000,250000000,300000000,350000000,400000000],
                    "labelExpr": "datum.value === 0 ? '-\u00a0\u00a0' : format(datum.value, ',')", "grid": true, "gridColor": "#D9D9D9", "gridWidth": 2, "ticks": false, "domain": false, "labelPadding": 29, "minExtent": 174}},
                "color": {"datum": "Katılım-Altın Nakit Akış (Sol Eksen) / Gold Funds Cash Flow (LHS)",
                  "scale": {"domain": ["Katılım-Altın Nakit Akış (Sol Eksen) / Gold Funds Cash Flow (LHS)", "Büyüklük/AUM"], "range": ["#4472C4", "#ED7D31"]},
                  "legend": {"title": null, "orient": "none", "legendX": 17, "legendY": 378, "direction": "horizontal", "columnPadding": 62, "symbolType": "stroke", "symbolStrokeWidth": 6}}
              }
            },
            {
              "data": {"name": "goldAUM"},
              "mark": {"type": "line", "strokeWidth": 5.5},
              "encoding": {
                "x": {"field": "d", "type": "temporal",
                  "scale": {"type": "utc", "domain": [{"year":2022,"month":3,"date":10,"utc":true},{"year":2023,"month":3,"date":10,"utc":true}]},
                  "axis": {"title": null, "orient": "bottom", "offset": -83.6, "values": [{"year":2022,"month":3,"date":10,"utc":true},{"year":2022,"month":4,"date":10,"utc":true},{"year":2022,"month":5,"date":10,"utc":true},{"year":2022,"month":6,"date":10,"utc":true},{"year":2022,"month":7,"date":10,"utc":true},{"year":2022,"month":8,"date":10,"utc":true},{"year":2022,"month":9,"date":10,"utc":true},{"year":2022,"month":10,"date":10,"utc":true},{"year":2022,"month":11,"date":10,"utc":true},{"year":2022,"month":12,"date":10,"utc":true},{"year":2023,"month":1,"date":10,"utc":true},{"year":2023,"month":2,"date":10,"utc":true},{"year":2023,"month":3,"date":10,"utc":true}],
                    "labels": false, "ticks": true, "tickSize": 8, "tickWidth": 2, "tickColor": "#C8C8C8", "domain": false, "grid": false}},
                "y": {"field": "v", "type": "quantitative",
                  "scale": {"domain": [0, 7000000000], "nice": false},
                  "axis": {"title": null, "orient": "right", "values": [0,1000000000,2000000000,3000000000,4000000000,5000000000,6000000000,7000000000], "labelExpr": "format(datum.value, ',')", "grid": false, "ticks": false, "domain": false, "labelPadding": 22}},
                "color": {"datum": "Büyüklük/AUM"}
              }
            }
          ],
          "resolve": {"scale": {"y": "independent"}, "axis": {"x": "independent"}}
        },
        {
          "width": 878,
          "height": 418,
          "title": {"text": "Katılım Diğer Fonlar / Other Participation Funds*", "subtitle": "*Invests in other type of Participation Investment Instruments", "fontSize": 25, "subtitleFontSize": 25, "subtitleFontWeight": "bold", "subtitleColor": "#595959", "subtitleFont": "Open Sans", "subtitlePadding": 12, "offset": -79, "dx": -22},
          "layer": [
            {
              "data": {"name": "otherCF"},
              "mark": {"type": "line", "strokeWidth": 4.5},
              "encoding": {
                "x": {"field": "d", "type": "temporal",
                  "scale": {"type": "utc", "domain": [{"year":2022,"month":3,"date":10,"utc":true},{"year":2023,"month":3,"date":10,"utc":true}]},
                  "axis": {"title": null, "orient": "bottom", "values": [{"year":2022,"month":3,"date":10,"utc":true},{"year":2022,"month":4,"date":10,"utc":true},{"year":2022,"month":5,"date":10,"utc":true},{"year":2022,"month":6,"date":10,"utc":true},{"year":2022,"month":7,"date":10,"utc":true},{"year":2022,"month":8,"date":10,"utc":true},{"year":2022,"month":9,"date":10,"utc":true},{"year":2022,"month":10,"date":10,"utc":true},{"year":2022,"month":11,"date":10,"utc":true},{"year":2022,"month":12,"date":10,"utc":true},{"year":2023,"month":1,"date":10,"utc":true},{"year":2023,"month":2,"date":10,"utc":true},{"year":2023,"month":3,"date":10,"utc":true}],
                    "labelExpr": "utcFormat(datum.value, '%d/%m/%Y')", "labelAngle": -45, "labelPadding": 22, "ticks": false, "domain": false, "grid": false, "labelOverlap": false, "labelFlush": false, "labelBound": false, "minExtent": 140}},
                "y": {"field": "v", "type": "quantitative",
                  "scale": {"domain": [-300000000, 415900000], "nice": false, "zero": false},
                  "axis": {"title": null, "orient": "left", "values": [-300000000,-200000000,-100000000,0,100000000,200000000,300000000,400000000],
                    "labelExpr": "datum.value === 0 ? '-\u00a0\u00a0' : format(datum.value, ',')", "grid": true, "gridColor": "#D9D9D9", "gridWidth": 2, "ticks": false, "domain": false, "labelPadding": 28}},
                "color": {"datum": "Katılım-Diğer Nakit Akış (Sol Eksen) / Other Funds Cash Flow (LHS)",
                  "scale": {"domain": ["Katılım-Diğer Nakit Akış (Sol Eksen) / Other Funds Cash Flow (LHS)", "Büyüklük/AUM"], "range": ["#4472C4", "#ED7D31"]},
                  "legend": {"title": null, "orient": "none", "legendX": -35, "legendY": 362, "direction": "horizontal", "columnPadding": 62, "symbolType": "stroke", "symbolStrokeWidth": 6}}
              }
            },
            {
              "data": {"name": "otherAUM"},
              "mark": {"type": "line", "strokeWidth": 5.5},
              "encoding": {
                "x": {"field": "d", "type": "temporal",
                  "scale": {"type": "utc", "domain": [{"year":2022,"month":3,"date":10,"utc":true},{"year":2023,"month":3,"date":10,"utc":true}]},
                  "axis": {"title": null, "orient": "bottom", "offset": -175.2, "values": [{"year":2022,"month":3,"date":10,"utc":true},{"year":2022,"month":4,"date":10,"utc":true},{"year":2022,"month":5,"date":10,"utc":true},{"year":2022,"month":6,"date":10,"utc":true},{"year":2022,"month":7,"date":10,"utc":true},{"year":2022,"month":8,"date":10,"utc":true},{"year":2022,"month":9,"date":10,"utc":true},{"year":2022,"month":10,"date":10,"utc":true},{"year":2022,"month":11,"date":10,"utc":true},{"year":2022,"month":12,"date":10,"utc":true},{"year":2023,"month":1,"date":10,"utc":true},{"year":2023,"month":2,"date":10,"utc":true},{"year":2023,"month":3,"date":10,"utc":true}],
                    "labels": false, "ticks": true, "tickSize": 8, "tickWidth": 2, "tickColor": "#C8C8C8", "domain": false, "grid": false}},
                "y": {"field": "v", "type": "quantitative",
                  "scale": {"domain": [0, 4091000000], "nice": false},
                  "axis": {"title": null, "orient": "right", "values": [0,500000000,1000000000,1500000000,2000000000,2500000000,3000000000,3500000000,4000000000], "labelExpr": "format(datum.value, ',')", "grid": false, "ticks": false, "domain": false, "labelPadding": 22, "minExtent": 183}},
                "color": {"datum": "Büyüklük/AUM"}
              }
            }
          ],
          "resolve": {"scale": {"y": "independent"}, "axis": {"x": "independent"}}
        }
      ],
      "spacing": 326,
      "bounds": "flush",
      "resolve": {"scale": {"color": "independent"}}
    },
    {
      "hconcat": [
        {"width": 1, "height": 1, "data": {"values": []}, "mark": "point"},
        {
          "width": 1946,
          "height": 461,
          "title": {"text": "Sukuk Döviz Fonları / Sukuk (Eurobond) Funds", "fontSize": 33, "offset": 26},
          "layer": [
            {
              "data": {"name": "sukukAUM"},
              "mark": {"type": "line", "strokeWidth": 5},
              "encoding": {
                "x": {"field": "d", "type": "temporal",
                  "scale": {"type": "utc", "domain": [{"year":2022,"month":3,"date":10,"utc":true},{"year":2023,"month":3,"date":10,"utc":true}]},
                  "axis": {"title": null, "orient": "bottom", "offset": -251.5, "values": [{"year":2022,"month":3,"date":10,"utc":true},{"year":2022,"month":4,"date":10,"utc":true},{"year":2022,"month":5,"date":10,"utc":true},{"year":2022,"month":6,"date":10,"utc":true},{"year":2022,"month":7,"date":10,"utc":true},{"year":2022,"month":8,"date":10,"utc":true},{"year":2022,"month":9,"date":10,"utc":true},{"year":2022,"month":10,"date":10,"utc":true},{"year":2022,"month":11,"date":10,"utc":true},{"year":2022,"month":12,"date":10,"utc":true},{"year":2023,"month":1,"date":10,"utc":true},{"year":2023,"month":2,"date":10,"utc":true},{"year":2023,"month":3,"date":10,"utc":true}],
                    "labels": false, "ticks": true, "tickSize": 8, "tickWidth": 2, "tickColor": "#C8C8C8", "domain": false, "grid": false}},
                "y": {"field": "v", "type": "quantitative",
                  "scale": {"domain": [0, 300000000], "nice": false},
                  "axis": {"title": null, "orient": "right", "values": [0,50000000,100000000,150000000,200000000,250000000,300000000], "labelExpr": "format(datum.value, ',')", "grid": false, "ticks": false, "domain": false, "labelPadding": 23}},
                "color": {"datum": "Büyüklük/AUM",
                  "scale": {"domain": ["Katılım-Kira Sertifikası (Döviz) Nakit Akış (Sol Eksen) / FC Sukuk Funds Cash Flow (LHS)", "Büyüklük/AUM"], "range": ["#4472C4", "#ED7D31"]},
                  "legend": {"title": null, "orient": "none", "legendX": 385, "legendY": 515, "direction": "horizontal", "columnPadding": 83, "symbolType": "stroke", "symbolStrokeWidth": 6}}
              }
            },
            {
              "data": {"name": "sukukCF"},
              "mark": {"type": "line", "strokeWidth": 4.5},
              "encoding": {
                "x": {"field": "d", "type": "temporal",
                  "scale": {"type": "utc", "domain": [{"year":2022,"month":3,"date":10,"utc":true},{"year":2023,"month":3,"date":10,"utc":true}]},
                  "axis": {"title": null, "orient": "bottom", "values": [{"year":2022,"month":3,"date":10,"utc":true},{"year":2022,"month":4,"date":10,"utc":true},{"year":2022,"month":5,"date":10,"utc":true},{"year":2022,"month":6,"date":10,"utc":true},{"year":2022,"month":7,"date":10,"utc":true},{"year":2022,"month":8,"date":10,"utc":true},{"year":2022,"month":9,"date":10,"utc":true},{"year":2022,"month":10,"date":10,"utc":true},{"year":2022,"month":11,"date":10,"utc":true},{"year":2022,"month":12,"date":10,"utc":true},{"year":2023,"month":1,"date":10,"utc":true},{"year":2023,"month":2,"date":10,"utc":true},{"year":2023,"month":3,"date":10,"utc":true}],
                    "labelExpr": "utcFormat(datum.value, '%d/%m/%Y')", "labelAngle": 0, "labelPadding": 20, "ticks": false, "domain": false, "grid": false, "labelOverlap": false, "labelFlush": false, "labelBound": false}},
                "y": {"field": "v", "type": "quantitative",
                  "scale": {"domain": [-60000000, 50000000], "nice": false, "zero": false},
                  "axis": {"title": null, "orient": "left", "values": [-60000000,-50000000,-40000000,-30000000,-20000000,-10000000,0,10000000,20000000,30000000,40000000,50000000],
                    "labelExpr": "datum.value === 0 ? '-\u00a0\u00a0' : format(datum.value, ',')", "grid": true, "gridColor": "#D9D9D9", "gridWidth": 2, "ticks": false, "domain": false, "labelPadding": 28}},
                "color": {"datum": "Katılım-Kira Sertifikası (Döviz) Nakit Akış (Sol Eksen) / FC Sukuk Funds Cash Flow (LHS)"}
              }
            }
          ],
          "resolve": {"scale": {"y": "independent"}, "axis": {"x": "independent"}}
        }
      ],
      "spacing": 115,
      "bounds": "flush",
      "resolve": {"scale": {"color": "independent"}}
    }
  ],
  "columns": 1,
  "align": "none",
  "spacing": {"row": 20, "column": 20},
  "resolve": {"scale": {"color": "independent"}}
}
